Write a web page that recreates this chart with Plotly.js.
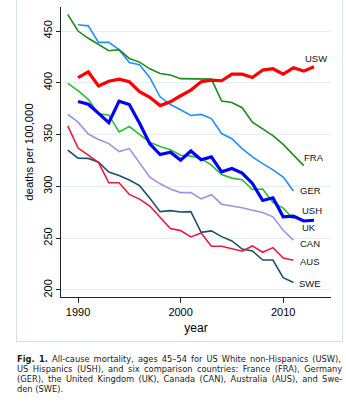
<!DOCTYPE html>
<html>
<head>
<meta charset="utf-8">
<script src="https://cdn.plot.ly/plotly-3.0.1.min.js"></script>
<style>
html,body{margin:0;padding:0;background:#fff;}
#wrap{position:relative;width:346px;height:403px;overflow:hidden;}
#chart{width:346px;height:403px;}
#frame{position:absolute;left:16px;top:-4px;width:325px;height:344px;border:1px solid #d2e1e5;pointer-events:none;}
</style>
</head>
<body>
<div id="wrap"><div id="chart"></div><div id="frame"></div></div>
<script>
// ---- data ----
const yearsFrom1989 = [1989,1990,1991,1992,1993,1994,1995,1996,1997,1998,1999,2000,2001,2002,2003,2004,2005,2006,2007,2008,2009,2010,2011,2012,2013];
const yearsFrom1990 = yearsFrom1989.slice(1);

const FRA = [466,450,443,437,431,432,423.5,420,413.5,409,407.5,404,404,403.6,403.6,382.4,381,376,362,355.5,349,340.5,330,320];
const GER = [456,455,439,439,432,419.5,417.5,405,386.5,379,374,368.5,369.5,365.5,351,346,336.5,328.5,322,316,309,295.5];
const USW = [405,410.5,397,401.5,403.5,401,391.4,386,378,381.6,387.5,393,401,402.6,402,408.4,408.4,405.2,412.3,413.6,408.4,414.5,411.3,415.5];
const USH = [399.5,392.5,384,370,369,352.5,357.8,350,342.6,338.5,335.3,330,329.2,327,320.5,311.5,308,306.5,297,297.5,284.5,279,268.5];
const UK  = [382,379.3,370.5,361.5,382.3,379,361,341,330.7,333,325.4,334.2,325.7,328.5,314,317.3,312.8,302.8,286.4,289,270.6,271.2,266.6,267.3];
const CAN = [369.5,362,350.5,345.2,341.3,333.6,336.5,322.5,308.8,302.5,297.5,294,294,288,292,282.8,281.2,279.3,277,274.8,270.6,257.7,248.1];
const AUS = [358.5,337,330.2,323,303.5,303.5,292.2,287.7,281,270.6,259.3,257.3,251.2,255,242.2,242.2,239.9,237.4,242.5,236.4,240.9,230.9,228.6];
const SWE = [335,327.3,327,323.3,313.8,310.4,306.2,300.7,288.5,275.6,276.6,275.3,275.6,255.6,257,251.5,247.3,239.5,237.6,228.9,228.9,211.8,207.3];

const seriesNames = ["SWE","AUS","CAN","GER","FRA","USH","UK","USW"];
const labelNames  = ["USW","FRA","GER","USH","UK","CAN","AUS","SWE"];
const labelYears  = [2011.93,2011.8,2011.48,2011.65,2011.65,2011.4,2011.4,2011.3];
const labelValues = [423,328,295.7,277,260,245,227.5,206];

const xTickVals = [1990,2000,2010];
const yTickVals = [200,250,300,350,400,450];

const xTitle = "year";
const yTitle = "deaths per 100,000";
const captionLines = [
  "<b>Fig. 1.</b>\u2002All-cause mortality, ages 45–54 for US White non-Hispanics (USW),",
  "US Hispanics (USH), and six comparison countries: France (FRA), Germany",
  "(GER), the United Kingdom (UK), Canada (CAN), Australia (AUS), and Swe-",
  "den (SWE)."
];

// ---- styles ----
const dataMap = {
  SWE:{x:yearsFrom1989,y:SWE,color:"#1d4f6e",w:1.6},
  AUS:{x:yearsFrom1989,y:AUS,color:"#e8193f",w:1.6},
  CAN:{x:yearsFrom1989,y:CAN,color:"#9d93dc",w:1.6},
  GER:{x:yearsFrom1990,y:GER,color:"#1e90ff",w:1.6},
  FRA:{x:yearsFrom1989,y:FRA,color:"#1f8a1f",w:1.6},
  USH:{x:yearsFrom1989,y:USH,color:"#2fbb2f",w:1.6},
  UK: {x:yearsFrom1990,y:UK, color:"#0000ff",w:3.2},
  USW:{x:yearsFrom1990,y:USW,color:"#ff0000",w:3.2}
};

const traces = seriesNames.map(n => ({
  type:"scatter", mode:"lines", name:n,
  x:dataMap[n].x, y:dataMap[n].y,
  line:{color:dataMap[n].color,width:dataMap[n].w},
  hoverinfo:"skip"
}));

// pixel geometry of the plot area
const L = 61, R = 331, T = 7, B = 297;
const W = 346, H = 403;
const px2x = p => (p - L)/(R - L);
const py2y = p => (B - p)/(B - T);

const FONT = "Liberation Sans, Arial, sans-serif";
const CAPFONT = "DejaVu Sans, Liberation Sans, sans-serif";

const annotations = [];
labelNames.forEach((n,i) => {
  annotations.push({
    x:labelYears[i], y:labelValues[i], xref:"x", yref:"y",
    text:n, showarrow:false, xanchor:"left", yanchor:"middle",
    font:{family:FONT,size:9.5,color:"#111"}
  });
});
const capY = [359.3,369.3,379.3,388.7];
captionLines.forEach((t,i) => {
  annotations.push({
    x:px2x(16.2), y:py2y(capY[i]), xref:"paper", yref:"paper",
    text:t, showarrow:false, xanchor:"left", yanchor:"middle", align:"left",
    borderpad:0,
    font:{family:CAPFONT,size:8.3,color:"#1a1a1a"}
  });
});

const layout = {
  width:W, height:H,
  margin:{l:L, r:W-R, t:T, b:H-B, pad:0},
  paper_bgcolor:"#fff", plot_bgcolor:"#fff",
  showlegend:false,
  font:{family:FONT,color:"#000"},
  xaxis:{
    range:[1988.34,2014.66], tickvals:xTickVals, ticktext:xTickVals.map(String),
    showgrid:false, zeroline:false, showline:true, linecolor:"#222", linewidth:1,
    ticks:"outside", ticklen:5, tickcolor:"#222", tickwidth:1,
    tickfont:{family:FONT,size:11,color:"#000"},
    title:{text:xTitle,font:{family:FONT,size:12,color:"#000"},standoff:6}
  },
  yaxis:{
    range:[193.2,473.2], tickvals:yTickVals, ticktext:yTickVals.map(String),
    tickangle:-90,
    showgrid:true, gridcolor:"#e3eeee", gridwidth:1, zeroline:false,
    showline:true, linecolor:"#222", linewidth:1,
    ticks:"outside", ticklen:4, tickcolor:"#222", tickwidth:1,
    tickfont:{family:FONT,size:11,color:"#000"},
    title:{text:yTitle,font:{family:FONT,size:11.3,color:"#000"},standoff:5}
  },
  annotations:annotations
};

Plotly.newPlot("chart", traces, layout, {staticPlot:true, displayModeBar:false}).then(gd => {
  // justify the first three caption lines to the caption width
  const target = 342 - 16.7;
  const first = labelNames.length;
  for (let i = 0; i < 3; i++) {
    const g = gd.querySelector('.annotation[data-index="' + (first + i) + '"]');
    if (!g) continue;
    const t = g.querySelector('text.annotation-text');
    if (!t) continue;
    const w = t.getComputedTextLength();
    const spaces = (t.textContent.match(/[ \u2002]/g) || []).length;
    if (spaces > 0) {
      t.style.wordSpacing = ((target - w) / spaces).toFixed(2) + "px";
    }
  }
});
</script>
</body>
</html>
